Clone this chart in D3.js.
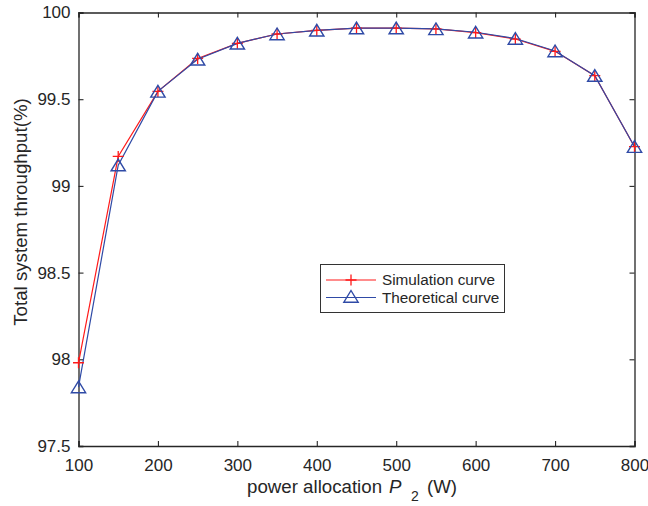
<!DOCTYPE html>
<html><head><meta charset="utf-8">
<script src="https://cdn.jsdelivr.net/npm/d3@7"></script>
<style>body{margin:0;background:#fff}svg{display:block}text{font-family:"Liberation Sans",Arial,sans-serif}</style>
</head><body>
<svg id="c" width="648" height="506"></svg>
<script>
const powerW = [100,150,200,250,300,350,400,450,500,550,600,650,700,750,800];
const simulation = [97.98,99.17,99.545,99.735,99.822,99.876,99.897,99.91,99.91,99.905,99.884,99.847,99.776,99.636,99.226];
const theoretical = [97.84,99.12,99.545,99.73,99.822,99.876,99.897,99.91,99.91,99.905,99.886,99.85,99.778,99.636,99.226];
const xTicks = [100,200,300,400,500,600,700,800];
const yTicks = [97.5,98,98.5,99,99.5,100];
const seriesNames = ["Simulation curve","Theoretical curve"];

const svg = d3.select("#c");
const L=78.5, R=634.5, T=12.5, B=446;
const x = d3.scaleLinear().domain([100,800]).range([L,R]);
const y = d3.scaleLinear().domain([97.5,100]).range([B,T]);
const red="#ff1a1a", blue="#2f4aa6";

const tl=5;
const gx=svg.append("g").attr("transform",`translate(0,${B})`)
  .call(d3.axisBottom(x).tickValues(xTicks).tickSize(-tl).tickPadding(13).tickFormat(d3.format("d")));
const gxt=svg.append("g").attr("transform",`translate(0,${T})`)
  .call(d3.axisTop(x).tickValues(xTicks).tickSize(-tl).tickFormat(""));
const gy=svg.append("g").attr("transform",`translate(${L},0)`)
  .call(d3.axisLeft(y).tickValues(yTicks).tickSize(-tl).tickPadding(8).tickFormat(d=>String(d)));
const gyr=svg.append("g").attr("transform",`translate(${R},0)`)
  .call(d3.axisRight(y).tickValues(yTicks).tickSize(-tl).tickFormat(""));
[gx,gxt,gy,gyr].forEach(g=>{
  g.selectAll("path.domain").attr("stroke","#262626").attr("stroke-width",1.3);
  g.selectAll(".tick line").attr("stroke","#262626").attr("stroke-width",1.1);
  g.selectAll("text").attr("font-size",17).attr("fill","#262626").attr("font-family","Liberation Sans, Arial, sans-serif");
});
gx.selectAll("text").attr("dy","0.71em");

const line=d3.line().x((d,i)=>x(powerW[i])).y(d=>y(d));
svg.append("path").datum(simulation).attr("d",line).attr("fill","none").attr("stroke",red).attr("stroke-width",1.2);
svg.append("path").datum(theoretical).attr("d",line).attr("fill","none").attr("stroke",blue).attr("stroke-width",1.2);

const plus=(g,cx,cy,s)=>g.append("path").attr("d",`M${cx-s},${cy}H${cx+s}M${cx},${cy-s}V${cy+s}`).attr("stroke",red).attr("stroke-width",1.3).attr("fill","none");
const tri=(g,cx,cy,s)=>g.append("path").attr("d",`M${cx},${cy-s}L${cx+s*1.1},${cy+s*0.8}L${cx-s*1.1},${cy+s*0.8}Z`).attr("stroke",blue).attr("stroke-width",1.4).attr("fill","none");

const gm=svg.append("g");
simulation.forEach((v,i)=>plus(gm,x(powerW[i]),y(v),5.5));
theoretical.forEach((v,i)=>tri(gm,x(powerW[i]),y(v)+0.5,6.5));

// legend
const lg=svg.append("g");
lg.append("rect").attr("x",320.5).attr("y",264.5).attr("width",184).attr("height",48).attr("fill","#fff").attr("stroke","#333").attr("stroke-width",1);
const rows=[280,297.5];
lg.append("line").attr("x1",326).attr("x2",376).attr("y1",rows[0]).attr("y2",rows[0]).attr("stroke",red).attr("stroke-width",1.2);
plus(lg,351,rows[0],5.5);
lg.append("line").attr("x1",326).attr("x2",376).attr("y1",rows[1]).attr("y2",rows[1]).attr("stroke",blue).attr("stroke-width",1.2);
tri(lg,351,rows[1]-0.5,6.5);
seriesNames.forEach((n,i)=>lg.append("text").attr("x",382).attr("y",rows[i]).attr("dy","0.35em").attr("font-size",15.3).attr("fill","#262626").text(n));

// axis labels
svg.append("text").attr("transform","translate(27,212) rotate(-90)").attr("text-anchor","middle")
  .attr("font-size",18.7).attr("fill","#262626").text("Total system throughput(%)");
const xl=svg.append("text").attr("y",493).attr("font-size",18.7).attr("fill","#262626");
xl.append("tspan").attr("x",247).text("power allocation");
xl.append("tspan").attr("x",389).attr("font-style","italic").text("P");
xl.append("tspan").attr("x",411).attr("font-size",14).attr("dy",8).text("2");
xl.append("tspan").attr("x",427).attr("dy",-8).text("(W)");
</script>
</body></html>
